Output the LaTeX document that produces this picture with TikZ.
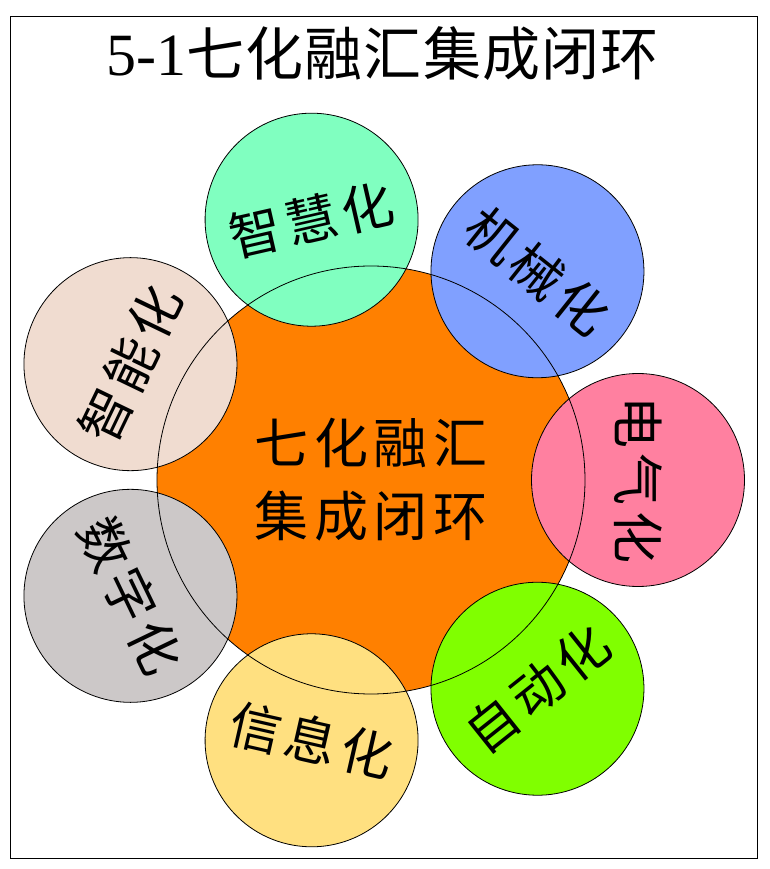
\documentclass[tikz,border=0pt]{standalone}
\usepackage{fontspec}
\newfontfamily\cjk{Noto Sans CJK SC}[LetterSpace=10]
\newfontfamily\titlecjk{Noto Sans CJK SC}[LetterSpace=2]
\newfontfamily\numfont{Liberation Serif}
\definecolor{hubfill}{HTML}{FF8000}
\definecolor{dianqi}{HTML}{FF80A0}
\definecolor{jixie}{HTML}{80A0FF}
\definecolor{zhihui}{HTML}{80FFC0}
\definecolor{zhineng}{HTML}{F0DCD0}
\definecolor{shuzi}{HTML}{CCC8C8}
\definecolor{xinxi}{HTML}{FFE080}
\definecolor{zidong}{HTML}{80FF00}
\begin{document}
\begin{tikzpicture}[x=1pt,y=1pt,line width=.8pt,
  ball/.style={circle,draw,inner sep=0pt,minimum size=213pt,
    font=\cjk\fontsize{52}{60}\selectfont}]
  \def\R{267}
  \useasboundingbox (-371,-389) rectangle (399,480);
  \draw (-361,-378) rectangle (386,464);
  \node (title) at (11.5,426) {\fontsize{60}{70}\selectfont\numfont 5-1\titlecjk\fontsize{58}{70}\selectfont 七化融汇集成闭环};
  \fill[hubfill] (0,0) circle (214);
  \foreach \idx/\col/\lab in {0/dianqi/电气化,1/jixie/机械化,2/zhihui/智慧化,
    3/zhineng/智能化,4/shuzi/数字化,5/xinxi/信息化,6/zidong/自动化}{
    \pgfmathsetmacro\ang{\idx*360/7}
    \pgfmathsetmacro\rot{\idx<4 ? \ang-90 : \ang+90}
    \node[ball,fill=\col,rotate=\rot] (\col) at (\ang:\R) {\lab};
  }
  \node[circle,draw,inner sep=0pt,minimum size=428pt,align=center,
    font=\cjk\fontsize{54}{73}\selectfont] (hub) at (0,0) {七化融汇\\集成闭环};
\end{tikzpicture}
\end{document}
